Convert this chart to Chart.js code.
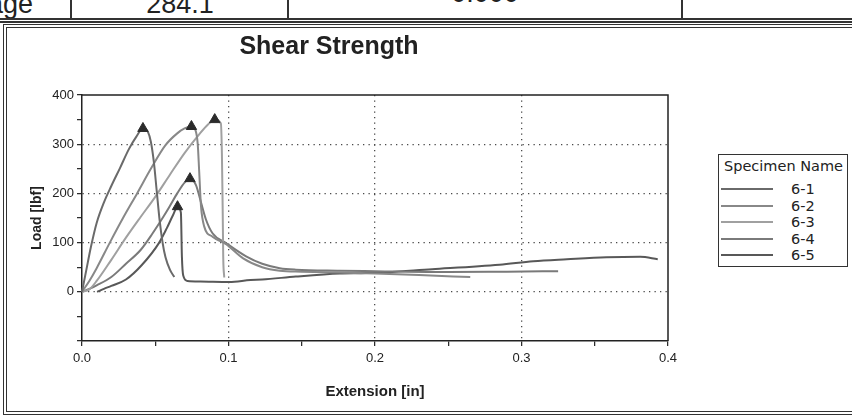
<!DOCTYPE html>
<html>
<head>
<meta charset="utf-8">
<script src="https://cdn.jsdelivr.net/npm/chart.js@4.4.1/dist/chart.umd.min.js"></script>
<style>
html,body{margin:0;padding:0;background:#fff;}
body{width:852px;height:415px;overflow:hidden;position:relative;font-family:"Liberation Sans",Arial,sans-serif;}
.cell{position:absolute;font-size:27px;line-height:27px;color:#222;white-space:nowrap;}
.vl{position:absolute;top:0;width:2px;height:19px;background:#333;}
.hl{position:absolute;left:0;width:852px;height:1.5px;background:#333;}
#frame{position:absolute;left:3px;top:24px;width:900px;height:383px;border:4px double #333;border-right:none;}
#cv{position:absolute;left:0;top:0;}
#legend{position:absolute;left:718px;top:154px;width:128px;height:111px;border:1px solid #333;background:#fff;font-family:"DejaVu Sans",Verdana,sans-serif;color:#222;}
#legend .lt{position:absolute;left:5px;top:2px;font-size:14.5px;line-height:18px;white-space:nowrap;}
#legend .li{position:absolute;left:0;width:128px;height:16px;}
#legend .ls{position:absolute;left:2px;top:7px;width:52px;height:2px;}
#legend .ln{position:absolute;left:72px;top:0;font-size:14.5px;line-height:16px;}
</style>
</head>
<body>
<div class="cell" style="right:819px;top:-9px;">Average</div>
<div class="vl" style="left:70px;"></div>
<div class="cell" style="left:180px;top:-9px;transform:translateX(-50%);">284.1</div>
<div class="vl" style="left:287px;"></div>
<div class="cell" style="left:485px;top:-20px;transform:translateX(-50%);">0.000</div>
<div class="vl" style="left:681px;"></div>
<div class="hl" style="top:18px;"></div>
<div class="hl" style="top:21px;"></div>
<div id="frame"></div>
<canvas id="cv" width="852" height="415"></canvas>
<div id="legend"></div>
<script>
// ---- data ----
const chartTitle = 'Shear Strength';
const xTitle = 'Extension [in]';
const yTitle = 'Load [lbf]';
const legendTitle = 'Specimen Name';
const specimenNames = ['6-1', '6-2', '6-3', '6-4', '6-5'];

const ext61 = [0, 0.003, 0.006, 0.01, 0.015, 0.02, 0.026, 0.032, 0.037, 0.0416, 0.045, 0.047, 0.049, 0.051, 0.053, 0.055, 0.057, 0.060, 0.063];
const load61 = [0, 45, 90, 140, 182, 215, 252, 290, 315, 332, 325, 305, 265, 205, 145, 100, 70, 45, 30];

const ext62 = [0, 0.005, 0.01, 0.019, 0.028, 0.0376, 0.047, 0.057, 0.065, 0.07, 0.0747, 0.0775, 0.079, 0.080, 0.0812, 0.0834, 0.0891, 0.0983, 0.11, 0.123, 0.135, 0.15, 0.176, 0.2, 0.23, 0.265];
const load62 = [0, 22, 48, 100, 150, 200, 250, 298, 322, 332, 336, 328, 300, 244, 175, 133, 112, 97, 68, 50, 43, 41, 39, 37, 34, 30];

const ext63 = [0, 0.005, 0.01, 0.02, 0.03, 0.04, 0.05, 0.06, 0.07, 0.08, 0.086, 0.0906, 0.0948, 0.0955, 0.096, 0.0964, 0.0971];
const load63 = [0, 5, 22, 65, 110, 152, 193, 238, 282, 320, 340, 350, 342, 280, 175, 71, 29];

const ext64 = [0, 0.005, 0.01, 0.02, 0.03, 0.04, 0.048, 0.055, 0.0595, 0.065, 0.07, 0.0737, 0.0778, 0.0812, 0.0846, 0.0891, 0.0983, 0.112, 0.123, 0.135, 0.146, 0.176, 0.2, 0.25, 0.29, 0.325];
const load64 = [0, 6, 13, 30, 57, 85, 118, 150, 172, 200, 222, 230, 217, 182, 147, 119, 99, 72, 57, 48, 45, 43, 42, 40, 41, 42];

const ext65 = [0.0103, 0.015, 0.02, 0.03, 0.041, 0.0527, 0.058, 0.062, 0.0652, 0.0675, 0.0682, 0.0691, 0.072, 0.0808, 0.1005, 0.115, 0.123, 0.146, 0.176, 0.194, 0.239, 0.285, 0.308, 0.331, 0.358, 0.381, 0.393];
const load65 = [0, 6, 12, 25, 55, 100, 130, 155, 173, 161, 71, 33, 22, 21, 20, 24, 25, 31, 37, 38, 46, 55, 62, 66, 70, 71, 66];

const xTickLabels = [0.0, 0.1, 0.2, 0.3, 0.4];
const yTickLabels = [0, 100, 200, 300, 400];
const xGridValues = [0.1, 0.2, 0.3];
const yGridValues = [0, 100, 200, 300];

const lineColors = ['#6a6a6a', '#888888', '#a0a0a0', '#7a7a7a', '#585858'];

// ---- build chart ----
const extSets = [ext61, ext62, ext63, ext64, ext65];
const loadSets = [load61, load62, load63, load64, load65];
const FONT = '"Liberation Sans", Arial, sans-serif';

const datasets = specimenNames.map((name, i) => {
  const ext = extSets[i], load = loadSets[i];
  const peak = load.indexOf(Math.max(...load));
  return {
    label: name,
    data: ext.map((x, j) => ({x: x, y: load[j]})),
    borderColor: lineColors[i],
    borderWidth: 2,
    cubicInterpolationMode: 'monotone',
    pointStyle: 'triangle',
    pointRadius: ctx => ctx.dataIndex === peak ? 6 : 0,
    pointHoverRadius: ctx => ctx.dataIndex === peak ? 6 : 0,
    pointBackgroundColor: '#2b2b2b',
    pointBorderColor: '#2b2b2b',
    pointBorderWidth: 1,
    fill: false,
    clip: false
  };
});

const near = (v, arr) => arr.some(a => Math.abs(a - v) < 1e-6);

const framePlugin = {
  id: 'frameAndTitle',
  afterDraw(chart) {
    const {ctx, chartArea: a} = chart;
    ctx.save();
    ctx.strokeStyle = '#222';
    ctx.lineWidth = 1.5;
    ctx.beginPath();
    ctx.moveTo(a.left, a.top);
    ctx.lineTo(a.right, a.top);
    ctx.lineTo(a.right, a.bottom);
    ctx.stroke();
    ctx.font = 'bold 25px ' + FONT;
    ctx.fillStyle = '#222';
    ctx.textAlign = 'center';
    ctx.textBaseline = 'middle';
    ctx.fillText(chartTitle, 329, 47);
    ctx.restore();
  }
};

new Chart(document.getElementById('cv'), {
  type: 'line',
  data: {datasets},
  plugins: [framePlugin],
  options: {
    responsive: false,
    animation: false,
    events: [],
    layout: {padding: {left: 0, right: 184, top: 95, bottom: 12}},
    plugins: {legend: {display: false}, tooltip: {enabled: false}, title: {display: false}},
    scales: {
      x: {
        type: 'linear',
        min: 0, max: 0.4,
        afterFit: s => { s.height = 62; },
        ticks: {
          stepSize: 0.05, autoSkip: false, maxRotation: 0, padding: 5,
          color: '#222', font: {family: FONT, size: 13},
          callback: v => near(v, xTickLabels) ? Number(v).toFixed(1) : ''
        },
        grid: {
          color: ctx => (ctx.tick && near(ctx.tick.value, xGridValues)) ? '#4a4a4a' : 'rgba(0,0,0,0)',
          lineWidth: 1.3, tickColor: '#222', tickLength: 5, tickWidth: 1.2
        },
        border: {display: true, color: '#222', width: 1.5, dash: [1.3, 4.2]},
        title: {display: true, text: xTitle, color: '#222', font: {family: FONT, size: 15, weight: 'bold'}, padding: {top: 0, bottom: 2}}
      },
      y: {
        type: 'linear',
        min: -100, max: 400,
        afterFit: s => { s.width = 82; },
        ticks: {
          stepSize: 50, autoSkip: false, padding: 3,
          color: '#222', font: {family: FONT, size: 13},
          callback: v => near(v, yTickLabels) ? String(v) : ''
        },
        grid: {
          color: ctx => (ctx.tick && near(ctx.tick.value, yGridValues)) ? '#4a4a4a' : 'rgba(0,0,0,0)',
          lineWidth: 1.3, tickColor: '#222', tickLength: 5, tickWidth: 1.2
        },
        border: {display: true, color: '#222', width: 1.5, dash: [1.3, 4.2]},
        title: {display: true, text: yTitle, color: '#222', font: {family: FONT, size: 14, weight: 'bold'}, padding: {top: 29, bottom: 0}}
      }
    }
  }
});

// legend (HTML, built from the same names and colours)
const lg = document.getElementById('legend');
let html = '<div class="lt">' + legendTitle + '</div>';
specimenNames.forEach((n, i) => {
  html += '<div class="li" style="top:' + (26 + i * 16.5) + 'px"><span class="ls" style="background:' + lineColors[i] + '"></span><span class="ln">' + n + '</span></div>';
});
lg.innerHTML = html;
</script>
</body>
</html>
